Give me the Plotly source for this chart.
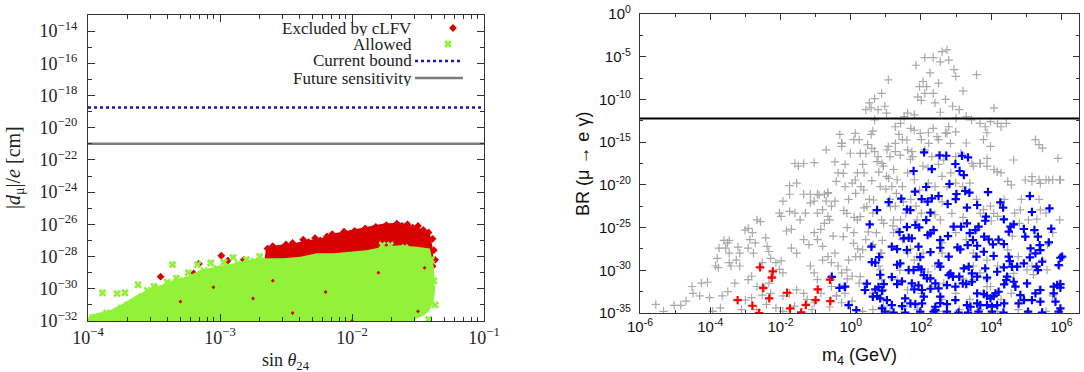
import numpy as np
import plotly.graph_objects as go

# ---------------- Left panel data (log10 values) ----------------
sin24_range = [1e-4, 1e-1]
current_bound = 1.8e-19
future_sensitivity = 1.0e-21

# dense "Excluded by cLFV" band outline (log10 sin, log10 d)
excluded_band = [(-2.67, -28.6), (-2.65, -27.39), (-2.57, -27.29), (-2.44, -27.18), (-2.34, -26.98),
                 (-2.24, -26.87), (-2.14, -26.56), (-2.01, -26.35), (-1.89, -26.15), (-1.76, -25.94),
                 (-1.64, -25.9), (-1.51, -26.15), (-1.41, -26.56), (-1.39, -27.39), (-1.38, -28.6)]
# dense "Allowed" region outline
allowed_band = [(-4.0, -32.0), (-3.99, -31.63), (-3.83, -31.32), (-3.71, -30.8), (-3.61, -30.29),
                (-3.48, -29.87), (-3.35, -29.46), (-3.25, -29.25), (-3.15, -28.84), (-3.03, -28.63),
                (-2.90, -28.42), (-2.77, -28.22), (-2.67, -28.11), (-2.52, -28.11), (-2.39, -28.01),
                (-2.27, -27.8), (-2.14, -27.8), (-2.01, -27.7), (-1.89, -27.6), (-1.76, -27.39),
                (-1.64, -27.29), (-1.51, -27.39), (-1.41, -27.5), (-1.38, -28.63), (-1.37, -30.08),
                (-1.38, -30.7), (-1.41, -31.32), (-1.45, -31.63), (-1.51, -31.84), (-1.53, -32.0)]
excluded_pts = [(-3.45, -29.25), (-3.20, -29.05), (-3.16, -28.45), (-2.99, -27.95), (-2.94, -28.25),
                (-2.82, -28.2), (-2.79, -28.4), (-2.64, -27.5), (-2.60, -27.35), (-2.55, -27.6),
                (-2.50, -27.25), (-2.45, -27.15), (-2.41, -27.45), (-2.37, -26.95), (-2.33, -27.1),
                (-2.28, -26.85), (-2.24, -27.0), (-2.19, -26.75), (-2.15, -26.6), (-2.10, -26.85),
                (-2.06, -26.45), (-2.02, -26.6), (-1.98, -26.4), (-1.94, -26.55), (-1.90, -26.25),
                (-1.86, -26.4), (-1.82, -26.15), (-1.78, -26.3), (-1.74, -26.05), (-1.70, -26.2),
                (-1.66, -25.95), (-1.62, -26.1), (-1.58, -26.0), (-1.54, -26.2), (-1.50, -26.1),
                (-1.46, -26.35), (-1.42, -26.5), (-1.39, -26.9), (-1.38, -27.6), (-1.37, -28.2),
                (-1.39, -28.6)]
excluded_inner = [(-3.3, -30.8), (-2.6, -29.5), (-2.2, -30.2), (-1.8, -29.0), (-1.5, -31.4),
                  (-1.45, -28.7), (-2.45, -31.5), (-2.0, -32.0), (-3.05, -29.9), (-2.75, -30.6)]
allowed_pts = [(-3.96, -31.8), (-3.92, -31.85), (-3.89, -30.25), (-3.86, -31.5), (-3.82, -31.7),
               (-3.78, -30.3), (-3.75, -31.2), (-3.72, -30.25), (-3.70, -31.0), (-3.66, -30.85),
               (-3.62, -29.75), (-3.58, -30.5), (-3.55, -30.1), (-3.50, -29.85), (-3.46, -30.0),
               (-3.40, -29.6), (-3.36, -28.5), (-3.33, -29.35), (-3.28, -29.5), (-3.24, -29.0),
               (-3.17, -28.5), (-3.12, -28.9), (-3.07, -28.4), (-3.02, -28.75), (-2.97, -28.35),
               (-2.90, -28.05), (-2.86, -28.45), (-2.80, -28.2), (-2.74, -28.3), (-2.70, -28.0),
               (-1.77, -27.3), (-1.71, -27.3), (-1.60, -27.45), (-1.48, -27.9), (-1.40, -28.2),
               (-1.38, -29.5), (-1.37, -31.0), (-1.42, -31.9), (-1.58, -32.0), (-1.66, -31.95),
               (-3.98, -32.0), (-3.6, -32.05)]

# ---------------- Right panel data (log10 m4, log10 BR) ----------------
meg_bound = 5.7e-13
m4_range = [1e-6, 10 ** 6.5]
gray_pts = [
    (-5.55, -34.0), (-5.33, -34.8), (-5.03, -34.1), (-4.84, -34.1), (-4.69, -33.6), (-4.52, -31.9),
    (-4.49, -32.7), (-4.30, -33.0), (-4.25, -31.5), (-4.08, -31.4), (-4.02, -33.2), (-3.93, -34.8),
    (-3.71, -34.4), (-3.66, -33.0), (-3.85, -29.5), (-3.77, -29.7), (-3.80, -28.6), (-3.75, -27.4),
    (-3.56, -27.4), (-3.61, -26.5), (-3.51, -26.8), (-3.46, -26.5), (-3.46, -28.0), (-3.46, -29.1),
    (-3.41, -29.5), (-3.26, -28.8), (-3.16, -29.5), (-3.21, -27.3), (-3.16, -28.0), (-3.01, -25.3),
    (-2.92, -25.1), (-2.80, -25.6), (-2.87, -26.4), (-2.92, -27.4), (-2.72, -26.8), (-2.77, -28.0),
    (-2.67, -24.1), (-2.57, -24.3), (-2.42, -26.2), (-2.38, -27.2), (-2.33, -27.8), (-2.52, -29.1),
    (-2.28, -28.6), (-2.13, -29.1), (-1.98, -28.9), (-2.92, -31.1), (-2.82, -30.7), (-2.67, -31.9),
    (-2.52, -31.9), (-2.33, -31.5), (-2.23, -30.7), (-2.03, -29.9), (-1.93, -30.3), (-2.82, -33.2),
    (-2.52, -32.9), (-2.28, -32.7), (-1.93, -33.0), (-1.74, -32.7), (-1.54, -32.3), (-1.34, -32.7),
    (-3.11, -34.6), (-2.67, -34.6), (-2.13, -34.4), (-1.93, -34.8), (-1.98, -23.7), (-2.03, -23.3),
    (-1.93, -21.9), (-1.74, -21.1), (-1.74, -20.1), (-1.54, -19.8), (-1.34, -21.1), (-1.15, -21.1),
    (-1.59, -17.5), (-1.49, -17.8), (-1.34, -17.5), (-1.04, -17.4), (-1.83, -25.4), (-1.69, -25.2),
    (-1.74, -23.1), (-1.59, -23.3), (-1.44, -24.1), (-1.29, -23.3), (-1.69, -27.4), (-1.54, -28.0),
    (-1.34, -26.4), (-1.19, -27.0), (-1.04, -25.6), (-0.95, -26.4), (-0.85, -25.2), (-0.75, -24.5),
    (-0.65, -23.7), (-0.60, -24.1), (-1.15, -22.1), (-1.04, -21.9), (-0.90, -21.2), (-0.75, -21.1),
    (-0.65, -21.0), (-0.45, -21.9), (-0.95, -23.3), (-0.80, -22.9), (-0.70, -21.9), (-0.55, -22.5),
    (-0.41, -19.6), (-0.36, -18.6), (-0.16, -17.6), (-0.26, -15.5), (-0.01, -16.3), (-0.31, -14.1),
    (-0.26, -15.1), (-0.70, -15.9), (-0.45, -17.3), (-0.95, -21.1), (-0.65, -20.9), (-1.15, -29.5),
    (-1.04, -30.3), (-0.95, -31.1), (-0.80, -28.8), (-0.65, -28.4), (-0.55, -29.1), (-0.45, -28.0),
    (-0.36, -29.5), (-0.26, -30.3), (-1.24, -33.4), (-1.04, -33.8), (-0.85, -32.7), (-0.55, -31.9),
    (-0.41, -33.0), (-0.26, -33.8), (-0.16, -32.7), (-0.16, -20.2), (-0.06, -21.7), (0.04, -19.8),
    (0.14, -21.0), (0.19, -18.6), (0.29, -20.2), (0.34, -17.6), (0.43, -16.3), (0.38, -18.6),
    (0.09, -14.7), (0.24, -14.7), (0.48, -15.3), (0.58, -14.1), (0.63, -13.7), (0.68, -12.4),
    (0.43, -11.2), (0.53, -10.4), (0.58, -11.0), (0.78, -11.2), (0.68, -9.9), (0.88, -9.3),
    (0.97, -10.8), (1.02, -11.6), (1.07, -7.7), (0.09, -25.6), (0.19, -24.1), (0.38, -22.7),
    (0.53, -21.7), (0.63, -23.3), (0.73, -25.6), (0.88, -24.1), (0.14, -28.4), (0.34, -27.6),
    (0.43, -26.4), (0.63, -27.0), (0.88, -28.0), (-0.06, -28.8), (0.04, -30.7), (0.24, -31.5),
    (0.38, -32.3), (0.63, -32.7), (0.88, -31.1), (0.93, -32.3), (0.04, -33.6), (0.34, -34.8),
    (0.63, -34.6), (0.93, -34.2), (1.12, -34.8), (0.68, -16.1), (0.78, -16.7), (0.93, -17.8),
    (1.07, -15.5), (1.12, -16.7), (1.22, -18.2), (1.27, -16.1), (1.37, -14.1), (1.47, -14.7),
    (1.62, -15.9), (1.76, -16.7), (1.02, -19.0), (1.17, -20.2), (1.32, -19.4), (1.47, -20.2),
    (1.62, -18.6), (1.81, -19.4), (1.96, -20.6), (1.12, -21.7), (1.27, -22.5), (1.42, -24.1),
    (1.57, -23.3), (1.71, -21.7), (1.86, -22.5), (2.01, -23.3), (1.27, -13.2), (1.42, -12.8),
    (1.52, -12.0), (1.62, -11.6), (1.71, -13.4), (1.81, -11.8), (1.91, -9.7), (2.01, -10.1),
    (2.11, -9.3), (1.96, -8.5), (2.06, -7.9), (2.16, -8.5), (2.26, -6.9), (2.35, -9.3),
    (2.50, -8.1), (2.40, -10.4), (1.86, -6.0), (2.11, -5.1), (2.35, -5.1), (2.55, -5.6),
    (2.60, -4.4), (2.74, -4.2), (2.79, -5.4), (2.94, -6.5), (2.99, -7.3), (3.58, -7.1),
    (1.81, -13.6), (2.01, -14.7), (2.21, -13.9), (2.35, -13.4), (2.50, -14.7), (2.70, -13.9),
    (2.79, -13.2), (2.99, -13.8), (3.09, -11.2), (3.29, -12.0), (3.44, -12.4), (2.11, -15.9),
    (2.31, -16.7), (2.50, -17.6), (2.65, -17.1), (2.85, -18.6), (2.99, -16.7), (3.14, -16.3),
    (3.29, -15.1), (3.49, -17.8), (2.06, -17.8), (2.21, -19.8), (2.40, -20.2), (2.60, -19.0),
    (2.74, -20.2), (2.99, -19.8), (3.19, -20.2), (3.39, -19.8), (3.68, -12.8), (3.83, -13.2),
    (3.98, -12.6), (4.08, -11.0), (4.18, -12.8), (4.28, -13.2), (4.43, -12.8), (3.78, -14.7),
    (3.88, -13.9), (3.98, -15.5), (3.68, -17.5), (3.88, -17.8), (4.08, -18.2), (4.28, -18.6),
    (4.47, -19.6), (4.57, -20.0), (5.26, -14.7), (5.36, -15.3), (5.46, -15.7), (5.16, -19.6),
    (5.36, -19.4), (5.56, -19.4), (5.75, -19.4), (5.95, -19.4), (5.90, -16.9), (3.58, -21.7),
    (3.78, -22.9), (3.98, -22.5), (4.18, -23.7), (4.37, -21.7), (4.67, -23.3), (4.86, -21.7),
    (5.06, -24.1), (5.36, -21.7), (5.56, -23.3), (5.75, -25.6), (5.95, -24.1), (1.22, -25.6),
    (1.47, -26.4), (1.62, -28.0), (1.81, -28.8), (2.06, -28.0), (2.40, -29.5), (2.60, -28.0),
    (2.99, -25.6), (3.29, -26.4), (3.49, -28.0), (3.88, -28.8), (4.18, -29.5), (4.47, -27.6),
    (4.77, -28.4), (5.16, -29.5), (5.46, -28.8), (5.95, -29.5), (1.32, -31.1), (1.62, -32.3),
    (2.01, -32.7), (2.31, -31.9), (2.60, -33.4), (2.99, -32.7), (3.39, -33.4), (3.78, -32.7),
    (3.98, -31.9), (4.28, -33.4), (4.57, -32.7), (4.96, -33.4), (5.36, -32.3), (5.75, -33.0),
    (1.52, -34.2), (1.91, -34.6), (2.50, -34.8), (3.09, -34.6), (3.68, -34.6), (4.18, -34.8),
    (4.77, -34.6), (5.56, -34.8), (3.49, -29.5), (3.68, -30.3), (3.88, -31.1), (3.49, -31.1),
    (0.8, -18.5), (1.0, -20.5), (1.3, -21.0), (0.6, -19.5), (1.5, -22.0), (1.7, -17.0),
    (2.2, -18.0), (2.6, -22.0), (2.4, -23.5), (1.2, -24.8), (0.5, -25.5), (0.9, -26.5),
    (1.7, -27.5), (2.6, -26.8), (3.2, -23.8), (3.6, -25.2), (4.0, -24.2), (4.6, -26.0),
    (4.8, -24.5), (5.3, -24.0), (5.6, -27.0), (5.2, -30.5), (4.5, -30.8), (3.2, -31.0),
    (2.2, -30.2), (1.4, -30.0), (0.8, -29.5), (3.2, -9.0), (2.9, -10.8), (3.0, -12.2),
    (2.55, -11.5), (2.7, -10.0), (-3.3, -31.5), (-3.5, -32.5), (-3.0, -33.5), (-2.4, -34.0),
    (-1.6, -34.2), (-1.1, -34.6), (-0.6, -34.3), (-0.4, -33.0), (-0.1, -31.0), (-0.8, -27.2),
    (-0.5, -26.0), (-0.2, -23.0), (-0.1, -25.0), (0.2, -27.5), (0.1, -23.8),
    (-0.25, -15.14), (0.13, -13.97), (0.27, -16.31), (0.60, -15.73), (0.75, -17.29), (0.89, -17.48),
    (1.03, -15.92), (1.27, -15.14), (1.41, -16.51), (1.60, -14.75), (1.74, -16.12), (1.98, -13.97),
    (2.22, -15.14), (2.46, -14.36), (2.74, -13.97), (2.84, -15.14), (3.45, -17.48), (3.69, -17.48),
    (3.88, -16.90), (4.17, -18.46), (4.64, -17.09), (4.97, -19.43), (5.16, -19.04), (5.40, -19.82),
    (5.64, -19.43), (5.97, -19.43), (-0.21, -18.65), (0.13, -19.43), (0.37, -20.60), (0.65, -21.77),
    (0.84, -20.21), (1.08, -19.24), (1.13, -22.55), (-0.11, -23.33), (0.27, -23.72), (0.46, -22.55),
    (0.94, -24.50), (1.22, -24.11), (1.32, -25.28), (1.89, -24.11), (2.55, -24.11), (2.88, -23.33),
    (3.69, -23.33), (4.07, -23.33), (4.83, -22.94), (5.40, -22.94), (-0.21, -26.06), (0.08, -26.84),
    (0.27, -28.40), (0.84, -28.01), (-0.11, -29.96), (0.27, -30.74), (0.84, -29.96), (1.89, -28.40),
    (2.65, -31.52), (3.88, -31.91), (4.64, -30.35), (5.02, -29.96), (5.59, -29.96), (-0.21, -31.91)]
blue_pts = [
    (2.09, -16.20), (2.53, -16.55), (2.72, -16.59), (3.17, -16.59), (3.34, -16.78), (2.98, -17.56),
    (1.79, -18.38), (2.31, -18.15), (3.10, -18.38), (3.22, -18.85), (2.81, -19.90), (2.15, -20.25),
    (1.44, -21.62), (1.83, -20.80), (2.02, -21.66), (2.19, -21.97), (2.31, -21.58), (2.50, -21.31),
    (2.76, -22.24), (3.01, -21.07), (2.99, -21.66), (3.26, -20.72), (3.38, -20.92), (3.91, -20.84),
    (5.10, -21.31), (1.08, -22.01), (0.75, -22.95), (1.60, -22.87), (1.70, -22.95), (2.27, -23.26),
    (3.31, -22.67), (3.60, -22.36), (4.26, -22.05), (4.34, -22.67), (5.16, -23.18), (5.66, -22.75),
    (0.54, -24.63), (1.39, -25.52), (1.51, -26.27), (1.65, -26.19), (1.74, -26.27), (1.60, -24.94),
    (1.84, -24.70), (1.95, -24.98), (2.15, -24.12), (2.19, -25.87), (2.27, -25.68), (2.36, -25.29),
    (2.55, -26.46), (2.77, -25.99), (2.93, -24.90), (3.14, -24.90), (3.31, -24.51), (3.39, -25.64),
    (3.48, -26.46), (3.55, -25.29), (3.64, -24.90), (3.85, -23.73), (3.83, -24.20), (3.93, -26.38),
    (3.80, -26.07), (4.05, -26.97), (4.21, -26.42), (4.36, -24.04), (4.55, -24.90), (4.64, -24.63),
    (4.50, -25.48), (4.93, -25.17), (4.97, -26.07), (5.23, -25.29), (5.33, -26.07), (5.71, -25.13),
    (5.64, -26.73), (0.59, -27.24), (0.81, -28.45), (0.60, -29.04), (0.70, -29.11), (1.17, -27.24),
    (1.32, -27.52), (1.60, -27.63), (1.93, -27.24), (1.98, -28.45), (2.27, -27.87), (2.55, -27.36),
    (2.79, -28.41), (3.04, -27.32), (3.12, -27.56), (3.33, -27.05), (3.60, -27.13), (3.58, -28.41),
    (3.79, -27.83), (4.07, -28.33), (4.36, -26.93), (4.50, -28.41), (5.12, -27.44), (5.38, -27.05),
    (5.40, -27.63), (5.10, -28.49), (5.26, -28.02), (5.97, -28.53), (1.32, -29.35), (1.41, -29.19),
    (1.65, -29.97), (1.79, -29.97), (1.93, -29.62), (2.01, -29.89), (2.08, -30.56), (2.17, -30.95),
    (2.27, -30.95), (2.50, -29.19), (2.55, -29.58), (2.84, -30.36), (2.91, -30.75), (3.09, -30.75),
    (3.22, -29.78), (3.36, -29.58), (3.45, -30.36), (3.60, -30.75), (3.83, -29.78), (3.88, -30.87),
    (4.17, -30.17), (4.36, -29.66), (4.45, -30.75), (4.53, -28.92), (4.59, -29.58), (4.74, -29.58),
    (4.93, -29.19), (5.29, -29.58), (5.33, -29.97), (5.45, -29.00), (5.92, -29.39), (6.02, -28.41),
    (0.84, -30.52), (1.17, -30.79), (0.94, -31.61), (0.79, -31.96), (0.70, -32.24), (0.46, -31.57),
    (0.41, -32.31), (-0.16, -31.92), (0.89, -32.39), (0.63, -33.09), (0.75, -33.02), (0.84, -33.29),
    (1.03, -33.49), (1.32, -31.61), (1.46, -31.30), (1.55, -33.29), (1.74, -31.54), (1.81, -32.24),
    (1.93, -31.77), (2.03, -32.31), (2.08, -33.09), (2.27, -32.16), (2.41, -31.54), (2.50, -32.12),
    (2.55, -33.09), (2.74, -31.73), (2.79, -30.56), (2.98, -31.92), (3.19, -31.54), (3.29, -31.61),
    (3.45, -31.34), (3.60, -32.70), (3.79, -32.78), (3.88, -32.98), (3.98, -33.29), (4.07, -33.02),
    (4.12, -32.70), (4.21, -32.51), (4.37, -31.65), (4.43, -31.14), (4.64, -31.34), (4.69, -31.92),
    (4.83, -32.90), (5.02, -31.54), (5.26, -32.70), (5.40, -32.31), (5.78, -31.92), (5.88, -31.73),
    (5.97, -31.61), (5.78, -32.70), (5.97, -32.04), (1.17, -34.07), (1.46, -34.19), (1.70, -33.88),
    (1.84, -33.96), (2.03, -33.88), (2.41, -34.27), (2.55, -33.84), (2.74, -33.96), (2.98, -33.49),
    (3.31, -34.07), (3.41, -34.27), (3.60, -33.88), (3.69, -34.07), (3.88, -34.07), (4.02, -34.27),
    (4.17, -34.07), (4.37, -33.88), (4.78, -33.88), (4.93, -33.49), (5.16, -33.49), (5.40, -33.68),
    (5.83, -33.68), (-0.06, -34.07), (0.16, -34.66), (0.89, -34.46), (0.98, -34.85), (1.22, -34.95),
    (1.55, -34.95), (1.98, -34.85), (2.36, -34.85), (2.41, -34.66), (2.74, -34.85), (3.07, -34.95),
    (3.34, -34.95), (3.64, -34.85), (4.02, -34.85), (4.35, -34.95), (5.05, -34.85), (5.45, -34.95),
    (5.92, -34.85), (5.97, -34.46), (-0.54, -30.76), (-0.32, -32.05)]
red_pts = [(-2.58, -29.66), (-2.22, -30.13), (-2.25, -30.87), (-2.49, -32.08), (-2.32, -33.29),
           (-3.22, -33.49), (-2.80, -34.15), (-2.61, -35.0), (-1.81, -32.63), (-1.73, -34.47),
           (-1.41, -34.93), (-1.28, -34.04), (-1.00, -33.49), (-0.94, -32.24), (-0.58, -33.6),
           (-0.59, -31.1)]

# tick exponents
left_x_exp = [-4, -3, -2, -1]
left_y_exp = [-32, -30, -28, -26, -24, -22, -20, -18, -16, -14]
left_y_minor_exp = [-31, -29, -27, -25, -23, -21, -19, -17, -15, -13]
right_x_exp = [-6, -4, -2, 0, 2, 4, 6]
right_x_minor_exp = [-5, -3, -1, 1, 3, 5]
right_y_exp = [0, -5, -10, -15, -20, -25, -30, -35]
right_y_minor_exp = [-2.5, -7.5, -12.5, -17.5, -22.5, -27.5, -32.5]

legend_labels = ["Excluded by cLFV", "Allowed", "Current bound", "Future sensitivity"]


def unpack(pts):
    return [10 ** a for a, b in pts], [10 ** b for a, b in pts]


def pw(exps):
    return [10.0 ** e for e in exps]


SERIF = "Liberation Serif"
SANS = "Liberation Sans"
GREEN = "#92F23A"
DRED = "#D80000"

fig = go.Figure()

# --- left panel ---
ex, ey = unpack(excluded_band)
fig.add_trace(go.Scatter(x=ex, y=ey, fill="toself", mode="lines", line=dict(width=0),
                         fillcolor=DRED, showlegend=False, hoverinfo="skip", xaxis="x", yaxis="y"))
ex, ey = unpack(excluded_pts)
fig.add_trace(go.Scatter(x=ex, y=ey, mode="markers", name=" ", legend="legend",
                         marker=dict(symbol="diamond", size=6, color=DRED), xaxis="x", yaxis="y"))
ax, ay = unpack(allowed_band)
fig.add_trace(go.Scatter(x=ax, y=ay, fill="toself", mode="lines", line=dict(width=0),
                         fillcolor=GREEN, showlegend=False, hoverinfo="skip", xaxis="x", yaxis="y"))
ax, ay = unpack(allowed_pts)
fig.add_trace(go.Scatter(x=ax, y=ay, mode="markers", name=" ", legend="legend2",
                         marker=dict(symbol="x", size=7, color=GREEN, line=dict(width=0)),
                         xaxis="x", yaxis="y"))
ix, iy = unpack(excluded_inner)
fig.add_trace(go.Scatter(x=ix, y=iy, mode="markers", showlegend=False,
                         marker=dict(symbol="diamond", size=3, color=DRED), xaxis="x", yaxis="y"))
fig.add_trace(go.Scatter(x=sin24_range, y=[current_bound] * 2, mode="lines", name=" ", legend="legend3",
                         line=dict(color="#1515C8", width=2.5, dash="dot"), xaxis="x", yaxis="y"))
fig.add_trace(go.Scatter(x=sin24_range, y=[future_sensitivity] * 2, mode="lines", name=" ",
                         legend="legend4", line=dict(color="#7C7C7C", width=2.5), xaxis="x", yaxis="y"))

# --- right panel ---
gx, gy = unpack(gray_pts)
fig.add_trace(go.Scatter(x=gx, y=gy, mode="markers", showlegend=False,
                         marker=dict(symbol="cross-thin", size=6, line=dict(color="#A8A8A8", width=1.2)),
                         xaxis="x2", yaxis="y2"))
bx, by = unpack(blue_pts)
fig.add_trace(go.Scatter(x=bx, y=by, mode="markers", showlegend=False,
                         marker=dict(symbol="cross-thin", size=6, line=dict(color="#0000FF", width=2.2)),
                         xaxis="x2", yaxis="y2"))
rx, ry = unpack(red_pts)
fig.add_trace(go.Scatter(x=rx, y=ry, mode="markers", showlegend=False,
                         marker=dict(symbol="cross-thin", size=6, line=dict(color="#FF0000", width=2.2)),
                         xaxis="x2", yaxis="y2"))
fig.add_trace(go.Scatter(x=m4_range, y=[meg_bound] * 2, mode="lines", showlegend=False,
                         line=dict(color="#000000", width=2), xaxis="x2", yaxis="y2"))

axis_common = dict(showline=True, linecolor="#333", linewidth=1.2, mirror="ticks", ticks="inside",
                   tickcolor="#333", showgrid=False, zeroline=False, type="log", automargin=False)


def leg(xpx, ypx):
    return dict(x=xpx / 1084, y=1 - ypx / 372, xanchor="left", yanchor="middle",
                bgcolor="rgba(0,0,0,0)", font=dict(family=SERIF, size=10),
                itemwidth=48, borderwidth=0)


fig.update_layout(
    width=1084, height=372, margin=dict(l=0, r=0, t=0, b=0, autoexpand=False),
    paper_bgcolor="white", plot_bgcolor="white",
    xaxis=dict(**axis_common, domain=[88 / 1084, 484 / 1084], anchor="y",
               range=[-4, -1], tickvals=pw(left_x_exp),
               ticktext=["10<sup>−%d</sup>" % -e for e in left_x_exp], ticklen=7,
               minor=dict(ticks="inside", ticklen=4, tickcolor="#333", dtick="D1"),
               tickfont=dict(family=SERIF, size=18, color="#222")),
    yaxis=dict(**axis_common, domain=[1 - 321 / 372, 1 - 15 / 372], anchor="x",
               range=[-32, -13], tickvals=pw(left_y_exp),
               ticktext=["10<sup>−%d</sup>" % -e for e in left_y_exp], ticklen=7,
               ticklabelstandoff=6,
               minor=dict(ticks="inside", ticklen=4, tickvals=pw(left_y_minor_exp), tickcolor="#333"),
               tickfont=dict(family=SERIF, size=18, color="#222")),
    xaxis2=dict(**axis_common, domain=[640 / 1084, 1079 / 1084], anchor="y2",
                range=[-6, 6.5], tickvals=pw(right_x_exp),
                ticktext=["10<sup>%d</sup>" % e for e in right_x_exp], ticklen=6,
                minor=dict(ticks="inside", ticklen=3, tickvals=pw(right_x_minor_exp), tickcolor="#333"),
                tickfont=dict(family=SANS, size=15, color="#111")),
    yaxis2=dict(**axis_common, domain=[1 - 313 / 372, 1 - 14 / 372], anchor="x2",
                range=[-35, 0], tickvals=pw(right_y_exp),
                ticktext=["10<sup>%d</sup>" % e for e in right_y_exp], ticklen=6,
                ticklabelstandoff=5,
                minor=dict(ticks="inside", ticklen=3, tickvals=pw(right_y_minor_exp), tickcolor="#333"),
                tickfont=dict(family=SANS, size=15, color="#111")),
    legend=leg(424, 28), legend2=leg(419, 44), legend3=leg(410, 61), legend4=leg(410, 78),
    showlegend=True,
)

# legend labels (right-aligned, to the left of the symbol column, as in the reference)
for lab, yy in zip(legend_labels, [28, 44, 61, 78]):
    fig.add_annotation(text=lab, xref="paper", yref="paper", x=413 / 1084, y=1 - yy / 372,
                       xanchor="right", yanchor="middle", showarrow=False, height=15, borderpad=0,
                       font=dict(family=SERIF, size=17, color="#222"))

# axis titles
fig.add_annotation(text="sin <i>θ</i><sub>24</sub>", xref="paper", yref="paper",
                   x=286 / 1084, y=1 - 361 / 372, xanchor="center", yanchor="middle", showarrow=False,
                   font=dict(family=SERIF, size=18, color="#222"))
fig.add_annotation(text="|<i>d</i><sub>μ</sub>|/<i>e</i> [cm]", xref="paper", yref="paper",
                   x=14 / 1084, y=1 - 168 / 372, xanchor="center", yanchor="middle", showarrow=False,
                   textangle=-90, font=dict(family=SERIF, size=20, color="#222"))
fig.add_annotation(text="m<sub>4</sub> (GeV)", xref="paper", yref="paper",
                   x=859 / 1084, y=1 - 356 / 372, xanchor="center", yanchor="middle", showarrow=False,
                   font=dict(family=SANS, size=18, color="#111"))
fig.add_annotation(text="BR (μ → e γ)", xref="paper", yref="paper",
                   x=583 / 1084, y=1 - 164 / 372, xanchor="center", yanchor="middle", showarrow=False,
                   textangle=-90, font=dict(family=SANS, size=18, color="#111"))

fig.write_html("out.html", config={"displayModeBar": False},
               post_script="document.body.style.margin='0';")
